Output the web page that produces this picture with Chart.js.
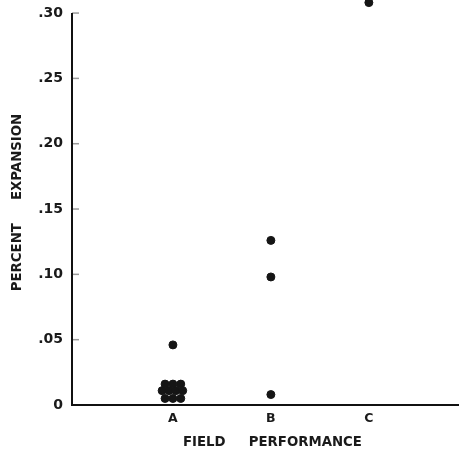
<!DOCTYPE html>
<html lang="en">
<head>
    <meta charset="UTF-8">
    <title>Percent Expansion vs Field Performance</title>
    <script src="https://cdn.jsdelivr.net/npm/chart.js"></script>
    <style>
        html, body { margin: 0; padding: 0; background: #fff; }
        canvas { display: block; }
    </style>
</head>
<body>
    <canvas id="expansionChart" width="459" height="459"></canvas>

    <script>
const categories = ['A', 'B', 'C'];
const yTicks = [0, 0.05, 0.10, 0.15, 0.20, 0.25, 0.30];
const yTickLabels = ['0', '.05', '.10', '.15', '.20', '.25', '.30'];

// percent expansion, per field performance class
const valuesA = [0.046, 0.016, 0.016, 0.016, 0.011, 0.011, 0.011, 0.011, 0.005, 0.005, 0.005];
// sideways scatter of the crowded A points, in category units
const jitterA = [0.0, -0.08, 0.0, 0.08, -0.11, -0.04, 0.03, 0.10, -0.08, 0.0, 0.08];
const valuesB = [0.126, 0.098, 0.008];
const valuesC = [0.308];

const points = [];
valuesA.forEach((v, i) => points.push({ x: 1 + jitterA[i], y: v }));
valuesB.forEach(v => points.push({ x: 2, y: v }));
valuesC.forEach(v => points.push({ x: 3, y: v }));

const fontFamily = 'DejaVu Sans';

// y axis line stops at the top tick, with short tick marks on the inside
const yAxisLine = {
    id: 'yAxisLine',
    afterDraw(chart) {
        const ctx = chart.ctx;
        const y = chart.scales.y;
        const x0 = y.right;
        ctx.save();
        ctx.strokeStyle = '#9a9a9a';
        ctx.lineWidth = 1.5;
        yTicks.forEach(v => {
            if (v === 0) return;
            const py = y.getPixelForValue(v);
            ctx.beginPath();
            ctx.moveTo(x0, py);
            ctx.lineTo(x0 + 7, py);
            ctx.stroke();
        });
        ctx.strokeStyle = '#111';
        ctx.lineWidth = 2;
        ctx.beginPath();
        ctx.moveTo(x0, y.getPixelForValue(yTicks[yTicks.length - 1]));
        ctx.lineTo(x0, y.getPixelForValue(0) + 1);
        ctx.stroke();
        ctx.restore();
    }
};

const ctx = document.getElementById('expansionChart').getContext('2d');
new Chart(ctx, {
    type: 'scatter',
    data: {
        datasets: [{
            data: points,
            backgroundColor: '#151515',
            borderColor: '#151515',
            pointRadius: 4,
            pointHoverRadius: 4,
            clip: false,
        }],
    },
    options: {
        responsive: false,
        animation: false,
        layout: { autoPadding: false, padding: 0 },
        plugins: {
            legend: { display: false },
            tooltip: { enabled: false },
        },
        scales: {
            x: {
                type: 'linear',
                min: -0.03,
                max: 3.92,
                afterBuildTicks: scale => {
                    scale.ticks = categories.map((c, i) => ({ value: i + 1 }));
                },
                afterFit: scale => {
                    scale.height = 54;
                    scale.paddingLeft = 0;
                    scale.paddingRight = 0;
                },
                grid: { display: false, drawTicks: false },
                border: { display: true, color: '#111', width: 2 },
                ticks: {
                    color: '#1a1a1a',
                    padding: 6,
                    font: { family: fontFamily, size: 12.5, weight: 'bold' },
                    callback: v => categories[v - 1],
                },
                title: {
                    display: true,
                    text: '   FIELD     PERFORMANCE',
                    color: '#1a1a1a',
                    font: { family: fontFamily, size: 13.3, weight: 'bold' },
                    padding: { top: 0, bottom: 8 },
                },
            },
            y: {
                min: 0,
                max: 0.31,
                afterBuildTicks: scale => {
                    scale.ticks = yTicks.map(v => ({ value: v }));
                },
                ticks: {
                    color: '#1a1a1a',
                    padding: 9,
                    font: { family: fontFamily, size: 14, weight: 'bold' },
                    callback: (v, i) => yTickLabels[i],
                },
                afterFit: scale => {
                    scale.width = 72;
                    scale.paddingTop = 0;
                    scale.paddingBottom = 0;
                },
                grid: { display: false, drawTicks: false },
                border: { display: false },
                title: {
                    display: true,
                    text: 'PERCENT     EXPANSION',
                    color: '#1a1a1a',
                    font: { family: fontFamily, size: 13.3, weight: 'bold' },
                    padding: { top: 10, bottom: 0 },
                },
            },
        },
    },
    plugins: [yAxisLine],
});
    </script>
</body>
</html>
